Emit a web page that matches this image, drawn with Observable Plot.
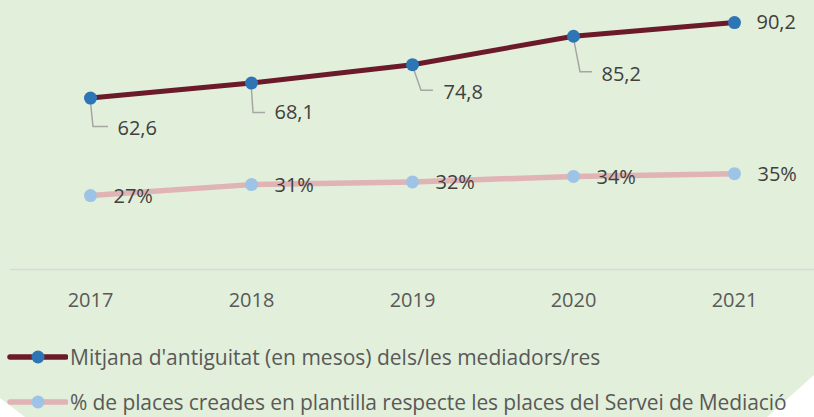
<!DOCTYPE html>
<html><head><meta charset="utf-8">
<script src="https://cdn.jsdelivr.net/npm/d3@7"></script>
<script src="https://cdn.jsdelivr.net/npm/@observablehq/plot@0.6"></script>
<style>
html,body{margin:0;padding:0;background:#fff;}
#wrap{position:relative;width:814px;height:417px;font-family:"Open Sans",sans-serif;overflow:hidden;}
#bg{position:absolute;left:0;top:0;width:814px;height:417px;background:#e2efda;clip-path:polygon(0 0,814px 0,814px 375px,767px 417px,25px 417px,0 398px);}
#chart{position:absolute;left:0;top:0;}
.leg{position:absolute;left:0;display:flex;align-items:center;height:24px;font-size:21px;color:#595959;white-space:nowrap;}
.leg svg{display:block;}
</style></head><body>
<div id="wrap"><div id="bg"></div><div id="chart"></div>
<div class="leg" id="leg1" style="top:345px"></div>
<div class="leg" id="leg2" style="top:390px;letter-spacing:-0.1px"></div>
</div>
<script>
// ---- data ----
const years = ["2017", "2018", "2019", "2020", "2021"];
const antiguitat = [62.6, 68.1, 74.8, 85.2, 90.2];
const antiguitatLabels = ["62,6", "68,1", "74,8", "85,2", "90,2"];
const places = [27, 31, 32, 34, 35];
const placesLabels = ["27%", "31%", "32%", "34%", "35%"];
const seriesNames = [
  "Mitjana d'antiguitat (en mesos) dels/les mediadors/res",
  "% de places creades en plantilla respecte les places del Servei de Mediació"
];

// ---- styling ----
const C = {maroon: "#6b1a29", blue: "#2e75b6", pink: "#e0b3b5", lightBlue: "#9dc3e6", text: "#404040", axis: "#595959", grid: "#d9d9d9", leader: "#a6a6a6"};
// label placement (pixel offsets from the point) for the first series, and leader elbows
const labelOffsets = [[27, 30], [23, 30], [31, 28], [28, 38], [22, 0]];
const leaderElbows = [[3, 29, 18], [2, 30, 14], [9, 26, 21], [7, 36, 19], null];

const rowsA = years.map((y, i) => ({year: y, value: antiguitat[i], label: antiguitatLabels[i], i}));
const rowsB = years.map((y, i) => ({year: y, value: places[i], label: placesLabels[i], i}));

const FS = 20;
const marks = [
  Plot.ruleY([0], {stroke: C.grid, strokeWidth: 1.5}),
  Plot.axisX({tickSize: 0, tickPadding: 23, fontSize: FS, fill: C.axis, label: null}),
  Plot.lineY(rowsA, {x: "year", y: "value", stroke: C.maroon, strokeWidth: 5}),
  Plot.lineY(rowsB, {x: "year", y: "value", stroke: C.pink, strokeWidth: 5.5}),
  Plot.dot(rowsA, {x: "year", y: "value", r: 6.5, fill: C.blue, stroke: "none"}),
  Plot.dot(rowsB, {x: "year", y: "value", r: 6.5, fill: C.lightBlue, stroke: "none"}),
  Plot.text(rowsB, {x: "year", y: "value", text: "label", dx: 23, dy: 1, textAnchor: "start", fontSize: FS, fill: C.text})
];
rowsA.forEach((d, i) => {
  marks.push(Plot.text([d], {x: "year", y: "value", text: "label", dx: labelOffsets[i][0], dy: labelOffsets[i][1], textAnchor: "start", fontSize: FS, fill: C.text}));
});

const chart = Plot.plot({
  width: 814,
  height: 330,
  marginLeft: 10,
  marginRight: 0,
  marginTop: 0,
  marginBottom: 61,
  style: {background: "transparent", fontFamily: "'Open Sans', sans-serif", overflow: "visible"},
  x: {type: "point", domain: years, range: [90, 734], padding: 0, axis: null},
  y: {domain: [0, 100], range: [269, -4.8], axis: null},
  marks
});
document.getElementById("chart").appendChild(chart);

// leader lines for the first series' labels, positioned with the chart's scales
const xs = chart.scale("x"), ys = chart.scale("y");
const firstDot = chart.querySelector('g[aria-label="dot"]');
const lg = document.createElementNS("http://www.w3.org/2000/svg", "g");
chart.insertBefore(lg, firstDot);
rowsA.forEach((d, i) => {
  const e = leaderElbows[i];
  if (!e) return;
  const px = xs.apply(d.year), py = ys.apply(d.value);
  d3.select(lg).append("path")
    .attr("d", `M${px},${py}L${px + e[0]},${py + e[1]}L${px + e[2]},${py + e[1]}`)
    .attr("fill", "none").attr("stroke", C.leader).attr("stroke-width", 1.5);
});

// legend
function legend(id, line, dot, text) {
  const el = document.getElementById(id);
  el.innerHTML = `<svg width="68" height="24"><line x1="10" x2="66" y1="12" y2="12" stroke="${line}" stroke-width="5.5" stroke-linecap="round"/><circle cx="38" cy="12" r="6.5" fill="${dot}"/></svg><span style="margin-left:2px">${text}</span>`;
}
legend("leg1", C.maroon, C.blue, seriesNames[0]);
legend("leg2", C.pink, C.lightBlue, seriesNames[1]);
</script>
</body></html>
